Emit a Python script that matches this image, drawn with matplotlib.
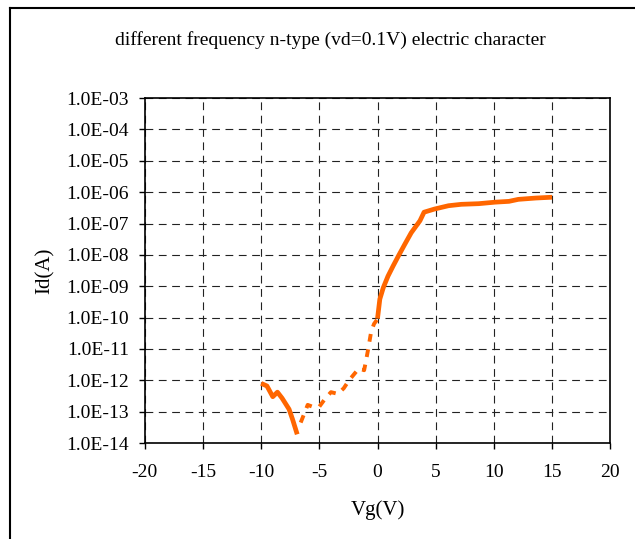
import matplotlib
matplotlib.use("Agg")
import matplotlib.pyplot as plt
import numpy as np
from matplotlib.lines import Line2D
from matplotlib.ticker import FuncFormatter

# solid part, negative gate
vg_off = [-10.0, -9.5, -9.0, -8.6, -8.2, -7.6, -7.3, -6.9]
id_off = [8e-13, 6.6e-13, 3e-13, 4.2e-13, 2.7e-13, 1.2e-13, 5.7e-14, 1.9e-14]

# dashed part, subthreshold
vg_sub = [-6.6, -6.0, -5.6, -5.0, -4.5, -4.0, -3.4, -2.9, -2.45, -1.6, -1.15,
          -1.0, -0.8, -0.55, -0.3, 0.0]
id_sub = [4.5e-14, 1.65e-13, 1.45e-13, 1.45e-13, 2.6e-13, 4.2e-13, 3.7e-13,
          5.6e-13, 1.0e-12, 2.4e-12, 2.1e-12, 4e-12, 1e-11, 3.5e-11, 6.3e-11, 9e-11]

# solid part, on state
vg_on = [0.0, 0.2, 0.5, 0.9, 1.35, 1.8, 2.35, 2.9, 3.65, 4.0, 4.9, 6.1, 7.2,
         8.7, 10.1, 11.3, 12.1, 13.6, 15.0]
id_on = [9.3e-11, 3.9e-10, 9.1e-10, 2.1e-9, 4.5e-9, 9.3e-9, 2.2e-8, 5.1e-8,
         1.23e-7, 2.3e-7, 2.9e-7, 3.7e-7, 4.1e-7, 4.3e-7, 4.8e-7, 5.1e-7,
         5.9e-7, 6.5e-7, 6.9e-7]

x_ticks = [-20, -15, -10, -5, 0, 5, 10, 15, 20]
y_ticks = [10.0 ** e for e in range(-14, -2)]

plt.rcParams['font.family'] = ['Liberation Serif', 'DejaVu Serif']
plt.rcParams['axes.unicode_minus'] = False

fig = plt.figure(figsize=(6.35, 5.39), dpi=100)
ax = fig.add_axes([0.228, 0.178, 0.733, 0.640])

orange = '#ff6600'
ax.plot(vg_off, id_off, '-', color=orange, lw=3.4, solid_capstyle='butt')
ax.plot(vg_sub, id_sub, color=orange, lw=2.8, linestyle=(0, (2.0, 2.0)))
ax.plot(vg_on, id_on, '-', color=orange, lw=3.4, solid_capstyle='butt')

ax.set_yscale('log')
ax.set_xlim(-20, 20)
ax.set_ylim(1e-14, 1e-3)
ax.set_xticks(x_ticks)
ax.set_yticks(y_ticks)
ax.minorticks_off()
ax.yaxis.set_major_formatter(FuncFormatter(lambda v, p: f"{v:.1E}"))
ax.tick_params(axis='both', labelsize=14, length=4, width=1, direction='out')
ax.tick_params(axis='y', pad=7.5)
ax.tick_params(axis='x', pad=11)
ax.grid(True, color='#222222', linestyle=(0, (7, 5)), linewidth=0.8)
for s in ax.spines.values():
    s.set_linewidth(1.2)

fig.text(0.52, 0.925, 'different frequency n-type (vd=0.1V) electric character',
         fontsize=14, ha='center', va='center')
ax.set_xlabel('Vg(V)', fontsize=15, labelpad=14)
ax.set_ylabel('Id(A)', fontsize=15, labelpad=8)

# outer chart frame
fig.add_artist(Line2D([0.0157, 1.0], [0.985, 0.985], color='black', lw=1.5))
fig.add_artist(Line2D([0.0157, 0.0157], [0.0, 0.985], color='black', lw=1.5))

fig.savefig('out.png', dpi=100)
